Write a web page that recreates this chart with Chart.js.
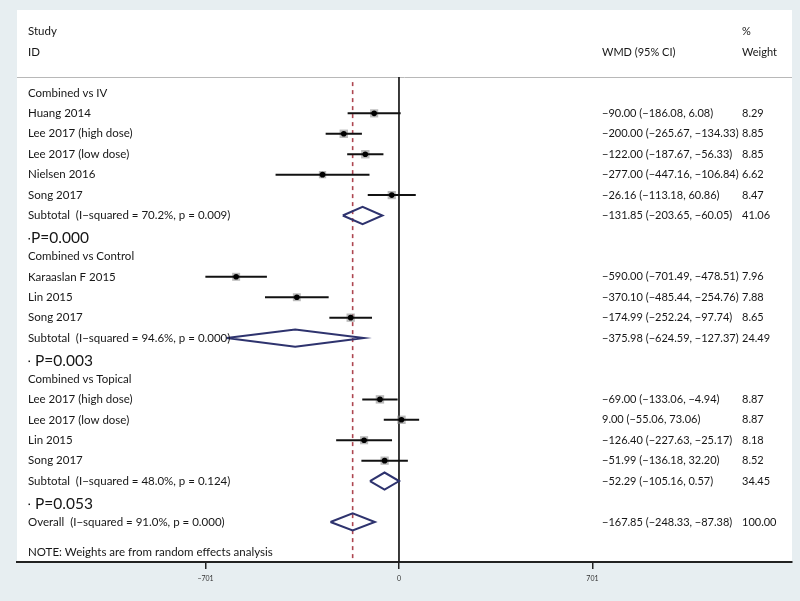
<!DOCTYPE html>
<html lang="en">
<head>
    <meta charset="UTF-8">
    <title>Forest plot - WMD</title>
    <script src="https://cdn.jsdelivr.net/npm/chart.js"></script>
    <style>
        body {
            margin: 0;
            padding: 0;
            background-color: #e7eef1;
            overflow: hidden;
        }

        .chart-box {
            width: 800px;
            height: 601px;
        }
    </style>
</head>
<body>
    <div class="chart-box">
        <canvas id="forestChart"></canvas>
    </div>

    <script>
        // groups
        const groupNames = ['Combined vs IV', 'Combined vs Control', 'Combined vs Topical'];
        const groupRows = [0, 8, 14];

        // individual studies
        const studyNames = ['Huang 2014', 'Lee 2017 (high dose)', 'Lee 2017 (low dose)', 'Nielsen 2016', 'Song 2017',
            'Karaaslan F 2015', 'Lin 2015', 'Song 2017',
            'Lee 2017 (high dose)', 'Lee 2017 (low dose)', 'Lin 2015', 'Song 2017'];
        const studyRows = [1, 2, 3, 4, 5, 9, 10, 11, 15, 16, 17, 18];
        const studyEst = [-90.00, -200.00, -122.00, -277.00, -26.16, -590.00, -370.10, -174.99, -69.00, 9.00, -126.40, -51.99];
        const studyLow = [-186.08, -265.67, -187.67, -447.16, -113.18, -701.49, -485.44, -252.24, -133.06, -55.06, -227.63, -136.18];
        const studyHigh = [6.08, -134.33, -56.33, -106.84, 60.86, -478.51, -254.76, -97.74, -4.94, 73.06, -25.17, 32.20];
        const studyWeight = [8.29, 8.85, 8.85, 6.62, 8.47, 7.96, 7.88, 8.65, 8.87, 8.87, 8.18, 8.52];

        // subtotals and overall
        const pooledNames = ['Subtotal  (I\u2212squared = 70.2%, p = 0.009)', 'Subtotal  (I\u2212squared = 94.6%, p = 0.000)',
            'Subtotal  (I\u2212squared = 48.0%, p = 0.124)', 'Overall  (I\u2212squared = 91.0%, p = 0.000)'];
        const pooledRows = [6, 12, 19, 21];
        const pooledEst = [-131.85, -375.98, -52.29, -167.85];
        const pooledLow = [-203.65, -624.59, -105.16, -248.33];
        const pooledHigh = [-60.05, -127.37, 0.57, -87.38];
        const pooledWeight = [41.06, 24.49, 34.45, 100.00];

        // P annotations
        const pLabels = ['P=0.000', 'P=0.003', 'P=0.053'];
        const pRows = [7.1, 13.1, 20.1];

        const xTicks = [-701, 0, 701];
        const overallEst = pooledEst[3];

        const yMin = -0.78, yMax = 22.96;
        const fontFam = 'Lato, "Open Sans", sans-serif';

        function fmt(v) {
            return (v < 0 ? '\u2212' : '') + Math.abs(v).toFixed(2);
        }

        const datasets = [];

        // line of no effect
        datasets.push({
            data: [{ x: 0, y: yMin }, { x: 0, y: yMax }],
            borderColor: '#1a1a1a', borderWidth: 1.7, pointRadius: 0, showLine: true, order: 9
        });
        // overall estimate (dashed)
        datasets.push({
            data: [{ x: overallEst, y: yMin + 0.25 }, { x: overallEst, y: yMax }],
            borderColor: '#ad4550', borderWidth: 1.6, borderDash: [4, 4], pointRadius: 0, showLine: true, order: 8
        });
        // weight boxes
        datasets.push({
            data: studyEst.map((v, i) => ({ x: v, y: studyRows[i] })),
            pointStyle: 'rect',
            pointRadius: studyWeight.map(w => 2 * Math.sqrt(w)),
            backgroundColor: 'rgba(140,140,140,0.6)', borderWidth: 0, order: 7
        });
        // confidence intervals
        studyEst.forEach((v, i) => {
            datasets.push({
                data: [{ x: studyLow[i], y: studyRows[i] }, { x: studyHigh[i], y: studyRows[i] }],
                borderColor: '#111', borderWidth: 2, pointRadius: 0, showLine: true, order: 6
            });
        });
        // point estimates
        datasets.push({
            data: studyEst.map((v, i) => ({ x: v, y: studyRows[i] })),
            pointStyle: 'circle', pointRadius: 2.8,
            backgroundColor: '#000', borderWidth: 0, order: 5
        });
        // diamonds
        pooledEst.forEach((v, i) => {
            const r = pooledRows[i];
            datasets.push({
                data: [{ x: pooledLow[i], y: r }, { x: v, y: r - 0.42 }, { x: pooledHigh[i], y: r },
                    { x: v, y: r + 0.42 }, { x: pooledLow[i], y: r }],
                borderColor: '#2e336e', borderWidth: 2, pointRadius: 0, showLine: true, fill: false, order: 4
            });
        });

        const panelBg = {
            id: 'panelBg',
            beforeDraw(chart) {
                const ctx = chart.ctx;
                ctx.save();
                ctx.fillStyle = '#e7eef1';
                ctx.fillRect(0, 0, chart.width, chart.height);
                ctx.fillStyle = '#ffffff';
                ctx.fillRect(17, 10, 775, chart.chartArea.bottom - 10);
                ctx.strokeStyle = '#b8b8b8';
                ctx.lineWidth = 1;
                ctx.beginPath();
                ctx.moveTo(17, chart.chartArea.top + 0.5);
                ctx.lineTo(792, chart.chartArea.top + 0.5);
                ctx.stroke();
                ctx.restore();
            }
        };

        const forestText = {
            id: 'forestText',
            afterDraw(chart) {
                const ctx = chart.ctx;
                const y = chart.scales.y;
                const colLabel = 28, colWmd = 602, colWeight = 742;
                ctx.save();
                ctx.fillStyle = '#161616';
                ctx.textBaseline = 'middle';
                ctx.textAlign = 'left';

                // left column labels
                ctx.font = '11.5px ' + fontFam;
                ctx.fillText('Study', colLabel, y.getPixelForValue(-3));
                ctx.fillText('ID', colLabel, y.getPixelForValue(-2));
                groupNames.forEach((g, i) => ctx.fillText(g, colLabel, y.getPixelForValue(groupRows[i])));
                studyNames.forEach((s, i) => ctx.fillText(s, colLabel, y.getPixelForValue(studyRows[i])));
                pooledNames.forEach((s, i) => ctx.fillText(s, colLabel, y.getPixelForValue(pooledRows[i])));
                ctx.fillText('NOTE: Weights are from random effects analysis', colLabel, y.getPixelForValue(22.5));

                // right columns
                ctx.font = '11px ' + fontFam;
                ctx.fillText('WMD (95% CI)', colWmd, y.getPixelForValue(-2));
                ctx.fillText('%', colWeight, y.getPixelForValue(-3));
                ctx.fillText('Weight', colWeight, y.getPixelForValue(-2));
                studyNames.forEach((s, i) => {
                    const py = y.getPixelForValue(studyRows[i]);
                    ctx.fillText(fmt(studyEst[i]) + ' (' + fmt(studyLow[i]) + ', ' + fmt(studyHigh[i]) + ')', colWmd, py);
                    ctx.fillText(studyWeight[i].toFixed(2), colWeight, py);
                });
                pooledNames.forEach((s, i) => {
                    const py = y.getPixelForValue(pooledRows[i]);
                    ctx.fillText(fmt(pooledEst[i]) + ' (' + fmt(pooledLow[i]) + ', ' + fmt(pooledHigh[i]) + ')', colWmd, py);
                    ctx.fillText(pooledWeight[i].toFixed(2), colWeight, py);
                });

                // P values pasted on the blank rows
                ctx.font = '15.5px ' + fontFam;
                pLabels.forEach((p, i) => {
                    const py = y.getPixelForValue(pRows[i]);
                    ctx.fillText(p, i === 0 ? 31 : 35, py);
                    ctx.fillRect(28.5, py, 1.5, 1.5);
                });
                ctx.restore();
            }
        };

        new Chart(document.getElementById('forestChart'), {
            type: 'scatter',
            data: { datasets },
            options: {
                responsive: true,
                maintainAspectRatio: false,
                animation: false,
                events: [],
                layout: { padding: { left: 17, right: 8, top: 77, bottom: 0 } },
                plugins: { legend: { display: false }, tooltip: { enabled: false } },
                scales: {
                    x: {
                        type: 'linear',
                        min: -1384,
                        max: 1424,
                        afterFit(s) { s.height = 39; },
                        afterBuildTicks(s) { s.ticks = xTicks.map(v => ({ value: v })); },
                        grid: { drawOnChartArea: false, drawTicks: true, tickLength: 7, color: '#222', lineWidth: 1.5 },
                        border: { display: true, color: '#222', width: 2 },
                        ticks: {
                            autoSkip: false,
                            maxRotation: 0,
                            padding: 6,
                            color: '#333',
                            font: { size: 7, family: fontFam },
                            callback: v => (v < 0 ? '\u2212' : '') + Math.abs(v)
                        }
                    },
                    y: {
                        type: 'linear',
                        reverse: true,
                        min: yMin,
                        max: yMax,
                        display: false
                    }
                }
            },
            plugins: [panelBg, forestText]
        });
    </script>
</body>
</html>
